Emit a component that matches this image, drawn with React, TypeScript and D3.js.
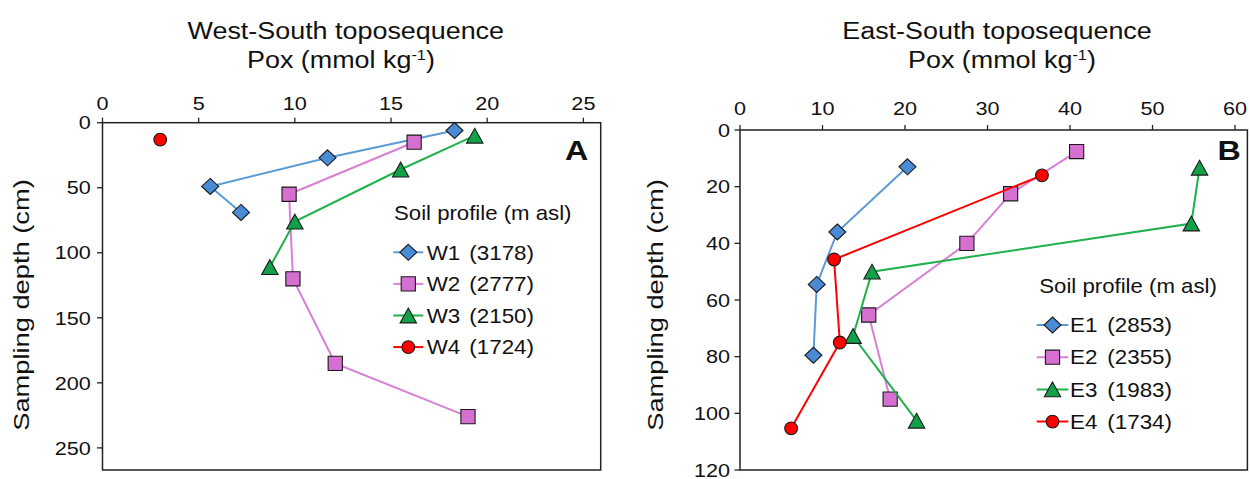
import React from "react";
import * as d3 from "d3";

// ---------- DATA ----------
// Panel A: West-South toposequence
const westPoxTicks = [0, 5, 10, 15, 20, 25];
const westDepthTicks = [0, 50, 100, 150, 200, 250];
const w1Pox = [18.3, 11.7, 5.6, 7.2];
const w1Depth = [6, 27, 49, 69];
const w2Pox = [16.2, 9.7, 9.9, 12.1, 19.0];
const w2Depth = [15, 55, 120, 185, 226];
const w3Pox = [19.35, 15.5, 10.0, 8.7];
const w3Depth = [10, 36, 76, 111];
const w4Pox = [3.0];
const w4Depth = [13];

// Panel B: East-South toposequence
const eastPoxTicks = [0, 10, 20, 30, 40, 50, 60];
const eastDepthTicks = [0, 20, 40, 60, 80, 100, 120];
const e1Pox = [20.3, 11.8, 9.3, 8.9];
const e1Depth = [13, 36, 54.5, 79.5];
const e2Pox = [40.8, 32.8, 27.5, 15.6, 18.2];
const e2Depth = [7.6, 22.5, 40, 65.3, 95];
const e3Pox = [55.7, 54.7, 16.0, 13.7, 21.4];
const e3Depth = [13.3, 33, 50, 72.7, 102.6];
const e4Pox = [36.6, 11.4, 12.1, 6.2];
const e4Depth = [16, 45.7, 75, 105.3];

const westNames = ["W1", "W2", "W3", "W4"];
const westElev = ["(3178)", "(2777)", "(2150)", "(1724)"];
const eastNames = ["E1", "E2", "E3", "E4"];
const eastElev = ["(2853)", "(2355)", "(1983)", "(1734)"];

// ---------- STYLE ----------
const FONT = "'Liberation Sans', Arial, Helvetica, sans-serif";
const styles = [
  { line: "#5b9bd5", fill: "#4a8bd6", shape: "diamond" },
  { line: "#d97fd5", fill: "#d56fd0", shape: "square" },
  { line: "#1fb14b", fill: "#12a049", shape: "triangle" },
  { line: "#ff0000", fill: "#ff0000", shape: "circle" },
];

function symbolPath(shape: string): string {
  const p = d3.path();
  if (shape === "diamond") {
    const rx = 8.5, ry = 8;
    p.moveTo(0, -ry); p.lineTo(rx, 0); p.lineTo(0, ry); p.lineTo(-rx, 0); p.closePath();
  } else if (shape === "square") {
    const s = 7.1;
    p.rect(-s, -s, 2 * s, 2 * s);
  } else if (shape === "triangle") {
    const w = 16.4, h = 14.8;
    p.moveTo(0, -h / 2); p.lineTo(w / 2, h / 2); p.lineTo(-w / 2, h / 2); p.closePath();
  } else {
    p.arc(0, 0, 6.4, 0, Math.PI * 2);
  }
  return p.toString();
}

function T(props: any) {
  const { x, y, size, anchor = "start", sx = 1.15, weight = "normal", rotate = 0, children } = props;
  return (
    <text
      transform={`translate(${x},${y})${rotate ? ` rotate(${rotate})` : ""} scale(${sx},1)`}
      textAnchor={anchor}
      fontSize={size}
      fontWeight={weight}
      fontFamily={FONT}
      fill="#111"
    >
      {children}
    </text>
  );
}

function Panel(props: any) {
  const { frame, xMax, yMax, xTicks, yTicks, series, names, elev, title, titleX, poxX,
    letter, letterX, xLabelBase, yLabelRight, yTitleX, legend } = props;
  const x = d3.scaleLinear().domain([0, xMax]).range([frame.left, frame.right]);
  const y = d3.scaleLinear().domain([0, yMax]).range([frame.top, frame.bottom]);
  const line = d3.line<[number, number]>().x((d) => x(d[0])).y((d) => y(d[1]));
  return (
    <g>
      <T x={titleX} y={39.3} size={23} anchor="middle" sx={1.17}>{title}</T>
      <text
        transform={`translate(${poxX},68.3) scale(1.17,1)`}
        textAnchor="middle"
        fontSize={23}
        fontFamily={FONT}
        fill="#111"
      >
        <tspan>Pox (mmol kg</tspan>
        <tspan fontSize={14} dy={-8.5}>-1</tspan>
        <tspan dy={8.5}>)</tspan>
      </text>
      {/* frame */}
      <rect x={frame.left} y={frame.top} width={frame.right - frame.left} height={frame.bottom - frame.top}
        fill="none" stroke="#222" strokeWidth={1.5} />
      {/* x ticks (top) */}
      {xTicks.map((t: number) => (
        <g key={"xt" + t}>
          <line x1={x(t)} x2={x(t)} y1={frame.top} y2={frame.top - 5} stroke="#222" strokeWidth={1.3} />
          <T x={x(t)} y={xLabelBase} size={18.8} anchor="middle">{t}</T>
        </g>
      ))}
      {/* y ticks */}
      {yTicks.map((t: number) => (
        <g key={"yt" + t}>
          <line x1={frame.left} x2={frame.left - 5.5} y1={y(t)} y2={y(t)} stroke="#222" strokeWidth={1.3} />
          <T x={yLabelRight} y={y(t) + 6.7} size={18.8} anchor="end">{t}</T>
        </g>
      ))}
      <T x={yTitleX} y={305} size={22} anchor="middle" rotate={-90} sx={1.24}>Sampling depth (cm)</T>
      <T x={letterX} y={160} size={28} anchor="end" weight="bold" sx={1.15}>{letter}</T>
      {/* series */}
      {series.map((s: any, i: number) => {
        const pts: [number, number][] = s.pox.map((v: number, k: number) => [v, s.depth[k]]);
        const st = styles[i];
        return (
          <g key={"s" + i}>
            {pts.length > 1 && (
              <path d={line(pts) || ""} fill="none" stroke={st.line} strokeWidth={2} />
            )}
            {pts.map((p, k) => (
              <path key={k} d={symbolPath(st.shape)} transform={`translate(${x(p[0])},${y(p[1])})`}
                fill={st.fill} stroke="#1a1a1a" strokeWidth={1.1} />
            ))}
          </g>
        );
      })}
      {/* legend */}
      <T x={legend.titleX} y={legend.titleY} size={20} sx={1.11}>Soil profile (m asl)</T>
      {names.map((n: string, i: number) => {
        const cy = legend.firstY + i * legend.step;
        const st = styles[i];
        return (
          <g key={"lg" + i}>
            <line x1={legend.lineX1} x2={legend.lineX2} y1={cy} y2={cy} stroke={st.line} strokeWidth={2} />
            <path d={symbolPath(st.shape)} transform={`translate(${(legend.lineX1 + legend.lineX2) / 2},${cy})`}
              fill={st.fill} stroke="#1a1a1a" strokeWidth={1.1} />
            <T x={legend.nameX} y={cy + 7.2} size={20} sx={1.12}>{n}</T>
            <T x={legend.elevX} y={cy + 7.2} size={20} sx={1.12}>{elev[i]}</T>
          </g>
        );
      })}
    </g>
  );
}

export default function App() {
  const westSeries = [
    { pox: w1Pox, depth: w1Depth },
    { pox: w2Pox, depth: w2Depth },
    { pox: w3Pox, depth: w3Depth },
    { pox: w4Pox, depth: w4Depth },
  ];
  const eastSeries = [
    { pox: e1Pox, depth: e1Depth },
    { pox: e2Pox, depth: e2Depth },
    { pox: e3Pox, depth: e3Depth },
    { pox: e4Pox, depth: e4Depth },
  ];
  return (
    <svg width={1250} height={479} style={{ position: "absolute", left: 0, top: 0, background: "#fff" }}>
      <rect x={0} y={0} width={1250} height={479} fill="#fff" />
      <Panel
        frame={{ left: 102.5, right: 600.7, top: 122.7, bottom: 470 }}
        xMax={25.9} yMax={267} xTicks={westPoxTicks} yTicks={westDepthTicks}
        series={westSeries} names={westNames} elev={westElev}
        title="West-South toposequence" titleX={345.8} poxX={341}
        letter="A" letterX={588.3} xLabelBase={110} yLabelRight={90.7} yTitleX={28.7}
        legend={{ titleX: 394, titleY: 219.5, firstY: 252.3, step: 31.6, lineX1: 393.3, lineX2: 423.3, nameX: 426.7, elevX: 469.3 }}
      />
      <Panel
        frame={{ left: 740, right: 1247.4, top: 130, bottom: 470 }}
        xMax={61.5} yMax={120} xTicks={eastPoxTicks} yTicks={eastDepthTicks}
        series={eastSeries} names={eastNames} elev={eastElev}
        title="East-South toposequence" titleX={997} poxX={1002}
        letter="B" letterX={1240.7} xLabelBase={115} yLabelRight={730} yTitleX={663.3}
        legend={{ titleX: 1039.3, titleY: 292.7, firstY: 325, step: 32.2, lineX1: 1036.7, lineX2: 1068.3, nameX: 1070, elevX: 1107.3 }}
      />
    </svg>
  );
}
